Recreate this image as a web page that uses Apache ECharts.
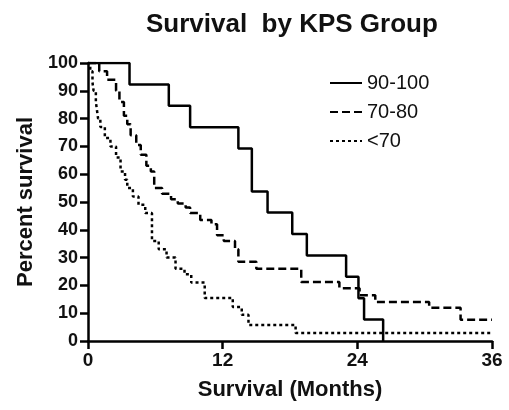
<!DOCTYPE html>
<html>
<head>
<meta charset="utf-8">
<script src="https://cdn.jsdelivr.net/npm/echarts@6/dist/echarts.min.js"></script>
<style>
html,body{margin:0;padding:0;background:#fff;}
#chart{width:509px;height:410px;}
</style>
</head>
<body>
<div id="chart"></div>
<script>
const groupNames = ['90-100', '70-80', '<70'];
const xTicks = [0, 12, 24, 36];

const months_90_100 = [0, 3.7, 7.2, 9.1, 13.4, 14.6, 16.0, 18.2, 19.5, 23.0, 24.1, 24.6, 26.3];
const survival_90_100 = [100, 92.3, 84.6, 76.9, 69.2, 53.8, 46.2, 38.5, 30.8, 23.1, 15.4, 7.7, 0];

const months_70_80 = [0, 1.0, 1.7, 2.5, 2.8, 3.2, 3.5, 3.8, 4.3, 4.7, 5.2, 5.6, 5.9, 6.6, 7.4, 8.0, 8.7, 9.1, 10.0, 11.0, 11.5, 12.1, 13.1, 13.4, 15.0, 19.0, 22.4, 24.2, 25.6, 30.4, 33.2, 36];
const survival_70_80 = [100, 97, 94, 90, 86, 81, 78, 74, 70.5, 67, 63, 61, 55, 53, 51, 49.5, 48, 46, 43.5, 42, 38, 36, 33, 28.5, 26, 21.2, 19, 16.5, 14, 12, 7.6, 7.6];

const months_lt70 = [0, 0.2, 0.4, 0.5, 0.7, 0.8, 0.9, 1.1, 1.5, 2.0, 2.5, 2.9, 3.3, 3.5, 4.0, 4.5, 5.1, 5.7, 6.3, 7.0, 7.8, 8.6, 9.2, 10.4, 12.9, 13.7, 14.3, 18.5, 36];
const survival_lt70 = [100, 97, 93, 90, 86, 83, 80, 77, 73, 70, 66, 61, 58, 55, 52, 49, 46, 36, 33, 30, 26, 24, 21, 15.5, 12.2, 9.4, 5.8, 2.9, 2.9];

function pairs(xs, ys) { return xs.map((x, i) => [x, ys[i]]); }

const FONT = '"Liberation Sans", Arial, Helvetica, sans-serif';
const chart = echarts.init(document.getElementById('chart'), null, {renderer: 'canvas'});

function mkSeries(name, xs, ys, type) {
  return {
    name: name,
    type: 'line',
    step: 'end',
    data: pairs(xs, ys),
    symbol: 'none',
    showSymbol: false,
    animation: false,
    lineStyle: {color: '#000', width: 2.5, type: type},
    itemStyle: {color: '#000'},
    emphasis: {disabled: true}
  };
}

chart.setOption({
  animation: false,
  backgroundColor: '#fff',
  title: {
    text: 'Survival  by KPS Group',
    left: 141,
    top: 7,
    textStyle: {fontFamily: FONT, fontSize: 26, fontWeight: 'bold', color: '#111'}
  },
  legend: {
    show: true,
    orient: 'vertical',
    left: 324,
    top: 68,
    itemWidth: 32,
    itemHeight: 20,
    itemGap: 9,
    selectedMode: false,
    itemStyle: {opacity: 0},
    textStyle: {fontFamily: FONT, fontSize: 20, color: '#111'}
  },
  grid: {left: 88, right: 17, top: 63, bottom: 69, containLabel: false},
  xAxis: {
    type: 'value',
    min: 0, max: 36, interval: 12,
    name: 'Survival (Months)',
    nameLocation: 'middle',
    nameGap: 38,
    nameTextStyle: {fontFamily: FONT, fontSize: 22, fontWeight: 'bold', color: '#111'},
    axisLine: {show: true, onZero: false, lineStyle: {color: '#000', width: 2.5}},
    axisTick: {show: true, length: 8, lineStyle: {color: '#000', width: 2.5}},
    axisLabel: {fontFamily: FONT, fontSize: 19, fontWeight: 'bold', color: '#111', margin: 10,
      formatter: v => xTicks.includes(v) ? String(v) : ''},
    splitLine: {show: false}
  },
  yAxis: {
    type: 'value',
    min: 0, max: 100, interval: 10,
    name: 'Percent survival',
    nameLocation: 'middle',
    nameGap: 44,
    nameRotate: 90,
    nameTextStyle: {fontFamily: FONT, fontSize: 22, fontWeight: 'bold', color: '#111'},
    axisLine: {show: true, onZero: false, lineStyle: {color: '#000', width: 2.5}},
    axisTick: {show: true, length: 8, lineStyle: {color: '#000', width: 2.5}},
    axisLabel: {fontFamily: FONT, fontSize: 18, fontWeight: 'bold', color: '#111', margin: 10},
    splitLine: {show: false}
  },
  series: [
    mkSeries(groupNames[0], months_90_100, survival_90_100, 'solid'),
    mkSeries(groupNames[1], months_70_80, survival_70_80, [8, 4]),
    mkSeries(groupNames[2], months_lt70, survival_lt70, [3, 3])
  ]
});
</script>
</body>
</html>
